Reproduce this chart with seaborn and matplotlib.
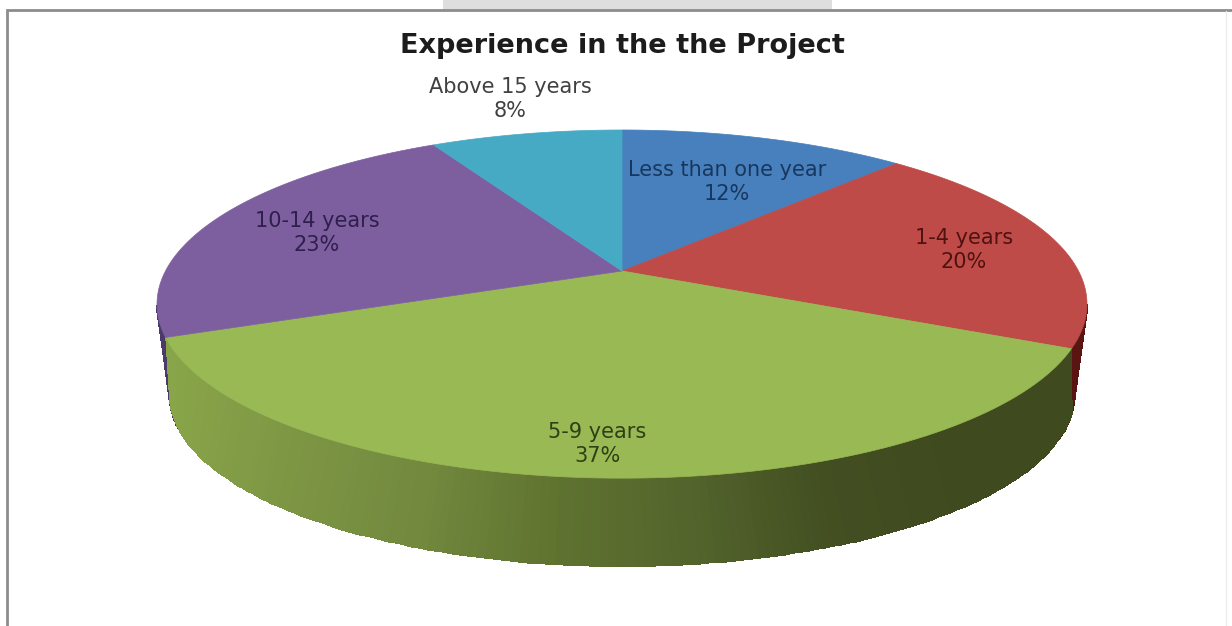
import numpy as np
import matplotlib
matplotlib.use('Agg')
import matplotlib.pyplot as plt
from matplotlib.colors import LinearSegmentedColormap
from matplotlib.patches import Polygon, Rectangle
import seaborn as sns

title = 'Experience in the the Project'
categories = ['Less than one year', '1-4 years', '5-9 years', '10-14 years', 'Above 15 years']
percent = [12, 20, 37, 23, 8]

top_colors = ['#4780bd', '#be4b48', '#98b954', '#7d5fa0', '#46aac5']
side_colors = ['#2c4d74', '#5a1512', '#3f4a1f', '#4c3a6a', '#2a6a7a']
label_colors = ['#17375e', '#4f1210', '#2f4016', '#2e1f4d', '#404040']
label_pos = [(727, 182), (964, 250), (597, 444), (317, 233), (510, 99)]

sns.set_theme(style='white')
plt.rcParams['font.family'] = ['DejaVu Sans']

fig = plt.figure(figsize=(12.32, 6.26), dpi=100)
ax = fig.add_axes([0, 0, 1, 1])

# pie only gives the slice angles, they get tilted below
wedges, _ = ax.pie(percent, startangle=90, counterclock=False, colors=sns.color_palette(top_colors))
angles = [(w.theta1, w.theta2) for w in wedges]
for w in wedges:
    w.remove()
ax.set_aspect('auto')
ax.set_xlim(0, 1232)
ax.set_ylim(626, 0)
ax.axis('off')

# perspective of the 3d pie, in pixels of the picture
cx, cy = 622, 271
k = 0.19
sx, sy = 456.5, 167.8


def tilt(x, y):
    d = 1 + k * y
    return sx * x / d, sy * y / d


def rim(t):
    t = np.radians(t)
    return tilt(np.cos(t), np.sin(t))


green_side = LinearSegmentedColormap.from_list(
    'green_side', ['#89a549', '#7d9644', '#72893e', '#5f7330', '#53642c', '#434f21', '#3f4a1f', '#3f4a1f'])
green = categories.index('5-9 years')

# side wall first, only the front of the rim shows. front slice goes last
order = [i for i in range(len(percent)) if i != green] + [green]
for i in order:
    t1, t2 = angles[i]
    t = np.linspace(t1, t2, 160)
    t = t[np.sin(np.radians(t)) < -k]
    if len(t) < 2:
        continue
    px, py = rim(t)
    # the front wall is a bit wider at its foot in the picture
    spread = 8 if i == green else 0
    qx, qy = rim(np.linspace(t[0] - spread, t[-1] + spread, len(t)))
    xs = np.vstack([cx + px, cx + 0.973 * qx])
    ys = np.vstack([cy - py, cy + 91.5 - 0.983 * qy])
    c = ((xs[0, :-1] + xs[0, 1:]) / 2).reshape(1, -1)
    if i == green:
        cmap = green_side
    else:
        cmap = LinearSegmentedColormap.from_list('flat', [side_colors[i], side_colors[i]])
    ax.pcolormesh(xs, ys, c, cmap=cmap, vmin=170, vmax=1075,
                  shading='flat', edgecolors='face', linewidth=0.3)

for i, (t1, t2) in enumerate(angles):
    px, py = rim(np.linspace(t1, t2, 160))
    pts = np.column_stack([np.r_[cx, cx + px], np.r_[cy, cy - py]])
    ax.add_patch(Polygon(pts, closed=True, fc=top_colors[i], ec=top_colors[i], lw=0.5, zorder=3))

for name, p, pos, col in zip(categories, percent, label_pos, label_colors):
    ax.text(pos[0], pos[1], f'{name}\n{p}%', ha='center', va='center', fontsize=15,
            color=col, linespacing=1.28, zorder=4)

ax.text(622, 46, title, ha='center', va='center', fontsize=19.5, fontweight='bold', color='#1c1c1c', zorder=4)

# frame of the screenshot
ax.add_patch(Rectangle((443, 0), 389, 10, fc='#dedede', ec='none'))
ax.plot([7, 7, 1232], [626, 10, 10], color='#8c8c8c', lw=2, solid_joinstyle='miter')
ax.plot([1226, 1226], [11, 626], color='#ececec', lw=1)

fig.savefig('out.png', dpi=100)
